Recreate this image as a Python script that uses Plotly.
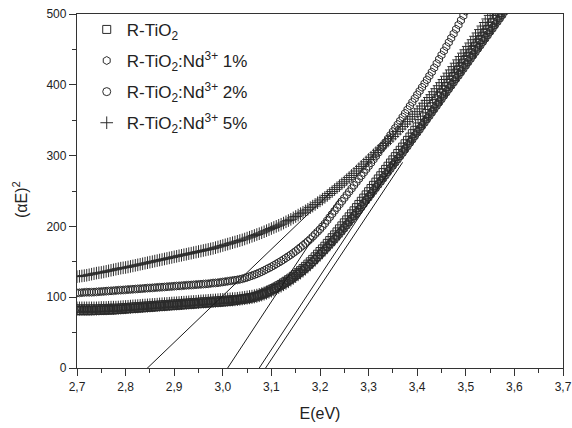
import plotly.graph_objects as go

# ---------------- data (every 0.005 eV) ----------------
E = [2.700, 2.705, 2.710, 2.715, 2.720, 2.725, 2.730, 2.735, 2.740, 2.745,
     2.750, 2.755, 2.760, 2.765, 2.770, 2.775, 2.780, 2.785, 2.790, 2.795,
     2.800, 2.805, 2.810, 2.815, 2.820, 2.825, 2.830, 2.835, 2.840, 2.845,
     2.850, 2.855, 2.860, 2.865, 2.870, 2.875, 2.880, 2.885, 2.890, 2.895,
     2.900, 2.905, 2.910, 2.915, 2.920, 2.925, 2.930, 2.935, 2.940, 2.945,
     2.950, 2.955, 2.960, 2.965, 2.970, 2.975, 2.980, 2.985, 2.990, 2.995,
     3.000, 3.005, 3.010, 3.015, 3.020, 3.025, 3.030, 3.035, 3.040, 3.045,
     3.050, 3.055, 3.060, 3.065, 3.070, 3.075, 3.080, 3.085, 3.090, 3.095,
     3.100, 3.105, 3.110, 3.115, 3.120, 3.125, 3.130, 3.135, 3.140, 3.145,
     3.150, 3.155, 3.160, 3.165, 3.170, 3.175, 3.180, 3.185, 3.190, 3.195,
     3.200, 3.205, 3.210, 3.215, 3.220, 3.225, 3.230, 3.235, 3.240, 3.245,
     3.250, 3.255, 3.260, 3.265, 3.270, 3.275, 3.280, 3.285, 3.290, 3.295,
     3.300, 3.305, 3.310, 3.315, 3.320, 3.325, 3.330, 3.335, 3.340, 3.345,
     3.350, 3.355, 3.360, 3.365, 3.370, 3.375, 3.380, 3.385, 3.390, 3.395,
     3.400, 3.405, 3.410, 3.415, 3.420, 3.425, 3.430, 3.435, 3.440, 3.445,
     3.450, 3.455, 3.460, 3.465, 3.470, 3.475, 3.480, 3.485, 3.490, 3.495,
     3.500, 3.505, 3.510, 3.515, 3.520, 3.525, 3.530, 3.535, 3.540, 3.545,
     3.550, 3.555, 3.560, 3.565, 3.570, 3.575, 3.580]

r_tio2 = [81, 81, 81, 81, 81, 81, 81, 81.2, 81.5, 81.5,
          81.5, 81.8, 82, 82, 82, 82.2, 82.5, 82.8, 83, 83.2,
          83.5, 83.8, 84, 84.2, 84.5, 84.8, 85, 85.2, 85.5, 85.8,
          86, 86.2, 86.5, 86.8, 87, 87.2, 87.5, 87.8, 88, 88.2,
          88.5, 88.8, 89, 89.2, 89.5, 89.8, 90, 90.2, 90.5, 90.8,
          91, 91.2, 91.5, 91.8, 92, 92.2, 92.5, 92.8, 93, 93.2,
          93.5, 93.8, 94, 94.5, 95, 95.5, 96, 96.5, 97, 97.5,
          98, 98.7, 99.5, 100.4, 101.5, 102.7, 104, 105.4, 107, 108.7,
          110.5, 112.2, 114, 116, 118, 120.2, 122.5, 124.7, 127, 129.5,
          132, 134.7, 137.5, 140.4, 143.5, 146.7, 150, 153.4, 157, 160.7,
          164.5, 168.2, 172, 176, 180, 184, 188, 192.2, 196.5, 200.7,
          205, 209.2, 213.5, 217.7, 222, 226.5, 231, 235.5, 240, 244.5,
          249, 253.5, 258, 262.5, 267, 271.5, 276, 280.5, 285, 289.5,
          294, 298.5, 303, 307.5, 312, 316.7, 321.5, 326.2, 331, 335.7,
          340.5, 345.2, 350, 354.7, 359.5, 364.2, 369, 373.7, 378.5, 383.2,
          388, 392.7, 397.5, 402.2, 407, 411.7, 416.5, 421.2, 426, 430.7,
          435.5, 440.2, 445, 449.7, 454.5, 459.2, 464, 468.7, 473.5, 478.2,
          483, 487.7, 492.5, 497.2, 502, 506.5, 511]

nd_1 = [106, 106.2, 106.5, 106.8, 107, 107, 107, 107.2, 107.5, 107.8,
        108, 108.2, 108.5, 108.8, 109, 109.2, 109.5, 109.8, 110, 110.2,
        110.5, 110.8, 111, 111.2, 111.5, 111.8, 112, 112.2, 112.5, 112.8,
        113, 113.2, 113.5, 113.8, 114, 114.2, 114.5, 114.8, 115, 115.2,
        115.5, 115.8, 116, 116.2, 116.5, 116.8, 117, 117.2, 117.5, 117.8,
        118, 118.2, 118.5, 118.8, 119, 119.5, 120, 120.2, 120.5, 121,
        121.5, 122, 122.5, 123, 123.5, 124, 124.5, 125.2, 126, 127,
        128, 129.2, 130.5, 131.7, 133, 134.5, 136, 137.7, 139.5, 141.2,
        143, 145, 147, 149, 151, 153.2, 155.5, 157.7, 160, 162.5,
        165, 167.7, 170.5, 173.2, 176, 179, 182, 185.5, 189, 192.5,
        196, 200, 204, 208.5, 213, 217.5, 222, 226.5, 231, 235.5,
        240, 244.5, 249, 253.5, 258, 262.5, 267, 271.5, 276, 280.5,
        285, 289.7, 294.5, 299.2, 304, 309, 314, 319, 324, 329,
        334, 339, 344, 349.2, 354.5, 359.7, 365, 370.2, 375.5, 380.7,
        386, 391.2, 396.5, 401.7, 407, 412.5, 418, 424, 430, 436,
        442, 448, 454, 460, 466, 472.2, 478.5, 484.7, 491, 497.5,
        504]

nd_2 = [84, 84, 84, 84, 84, 84, 84, 84, 84, 84.2,
        84.5, 84.5, 84.5, 84.8, 85, 85, 85, 85.2, 85.5, 85.8,
        86, 86.2, 86.5, 86.8, 87, 87.2, 87.5, 87.8, 88, 88.2,
        88.5, 88.8, 89, 89.2, 89.5, 89.8, 90, 90.2, 90.5, 90.8,
        91, 91.2, 91.5, 91.8, 92, 92.2, 92.5, 92.8, 93, 93.2,
        93.5, 93.8, 94, 94.2, 94.5, 94.8, 95, 95.2, 95.5, 95.8,
        96, 96.2, 96.5, 96.8, 97, 97.2, 97.5, 98, 98.5, 99,
        99.5, 100, 100.5, 101.2, 102, 103, 104, 105.2, 106.5, 108,
        109.5, 111.2, 113, 114.7, 116.5, 118.5, 120.5, 122.7, 125, 127.5,
        130, 132.5, 135, 137.7, 140.5, 143.5, 146.5, 149.7, 153, 156.5,
        160, 163.5, 167, 170.7, 174.5, 178.2, 182, 186, 190, 194,
        198, 202.2, 206.5, 210.7, 215, 219.2, 223.5, 228, 232.5, 237,
        241.5, 246, 250.5, 255, 259.5, 264, 268.5, 273, 277.5, 282,
        286.5, 291, 295.5, 300, 304.5, 309.2, 314, 318.7, 323.5, 328.2,
        333, 337.7, 342.5, 347.2, 352, 356.7, 361.5, 366.2, 371, 375.7,
        380.5, 385.2, 390, 394.7, 399.5, 404.2, 409, 413.7, 418.5, 423.2,
        428, 432.7, 437.5, 442.2, 447, 451.7, 456.5, 461.2, 466, 470.7,
        475.5, 480.2, 485, 489.7, 494.5, 499.2, 504]

nd_5 = [129, 129.5, 130, 130.5, 131, 131.7, 132.5, 133.2, 134, 134.5,
        135, 135.7, 136.5, 137.2, 138, 138.7, 139.5, 140.2, 141, 141.5,
        142, 142.7, 143.5, 144.2, 145, 145.7, 146.5, 147.2, 148, 148.7,
        149.5, 150.2, 151, 151.7, 152.5, 153.2, 154, 154.7, 155.5, 156.2,
        157, 157.7, 158.5, 159.2, 160, 160.7, 161.5, 162.2, 163, 163.7,
        164.5, 165.2, 166, 166.7, 167.5, 168.2, 169, 170, 171, 172,
        173, 174, 175, 176, 177, 178, 179, 180, 181, 182.2,
        183.5, 184.7, 186, 187.2, 188.5, 189.7, 191, 192.5, 194, 195.5,
        197, 198.5, 200, 201.5, 203, 204.7, 206.5, 208.2, 210, 212,
        214, 216, 218, 220, 222, 224.2, 226.5, 228.7, 231, 233.5,
        236, 238.5, 241, 243.7, 246.5, 249.2, 252, 254.7, 257.5, 260.2,
        263, 266, 269, 272, 275, 278.2, 281.5, 284.7, 288, 291.2,
        294.5, 297.7, 301, 304.2, 307.5, 310.7, 314, 317.2, 320.5, 323.7,
        327, 330.5, 334, 337.5, 341, 344.5, 348, 351.5, 355, 358.5,
        362, 366, 370, 374, 378, 382, 386, 390.2, 394.5, 398.7,
        403, 407.5, 412, 416.5, 421, 425.7, 430.5, 435.2, 440, 444.7,
        449.5, 454.2, 459, 463.7, 468.5, 473.2, 478, 483, 488, 493,
        498, 503, 508]

names = ["R-TiO<sub>2</sub>",
         "R-TiO<sub>2</sub>:Nd<sup>3+</sup> 1%",
         "R-TiO<sub>2</sub>:Nd<sup>3+</sup> 2%",
         "R-TiO<sub>2</sub>:Nd<sup>3+</sup> 5%"]

# tangent (Tauc) lines: x-intercept, slope, start value, end energy
tan_e0 = [2.845, 3.010, 3.075, 3.088]
tan_slope = [658, 1042, 1040, 1030]
tan_vstart = [-10, -10, -22, -22]
tan_eend = [3.222, 3.24, 3.36, 3.37]

x_ticks = [2.7, 2.8, 2.9, 3.0, 3.1, 3.2, 3.3, 3.4, 3.5, 3.6, 3.7]
y_ticks = [0, 100, 200, 300, 400, 500]
X_RANGE = [2.7, 3.7]
Y_RANGE = [0, 500]

# ---------------- figure ----------------
FONT = "Liberation Sans, Arial, sans-serif"
MC = "#2b2b2b"

fig = go.Figure()
series = [(r_tio2, "square-open", 8), (nd_1, "hexagon-open", 8),
          (nd_2, "circle-open", 8), (nd_5, "cross-thin-open", 9)]
for i, (vals, sym, sz) in enumerate(series):
    fig.add_trace(go.Scatter(
        x=E[:len(vals)], y=vals, mode="markers", name=names[i],
        legendgroup=str(i),
        marker=dict(symbol=sym, size=sz, color=MC, line=dict(width=1, color=MC))))
    if i == 2:
        # vertical bar of the Φ-shaped marker
        fig.add_trace(go.Scatter(
            x=E[:len(vals)], y=vals, mode="markers", name=names[i],
            legendgroup=str(i), showlegend=False, hoverinfo="skip",
            marker=dict(symbol="line-ns-open", size=10, color=MC,
                        line=dict(width=1, color=MC))))

shapes = []
for e0, s, vs, ee in zip(tan_e0, tan_slope, tan_vstart, tan_eend):
    shapes.append(dict(type="line", xref="x", yref="y",
                       x0=e0 + vs / s, y0=vs, x1=ee, y1=s * (ee - e0),
                       line=dict(color="#1a1a1a", width=1)))

axis_common = dict(showgrid=False, zeroline=False, automargin=False,
                   showline=True, linecolor="#333", linewidth=1.3, mirror=True,
                   ticks="outside", ticklen=7, tickwidth=1.2, tickcolor="#333",
                   tickfont=dict(size=12, family=FONT, color="#222"))

fig.update_layout(
    width=572, height=428, autosize=False,
    margin=dict(l=77, r=9, t=14, b=60),
    paper_bgcolor="white", plot_bgcolor="white",
    separators=",.",
    font=dict(family=FONT, size=12, color="#222"),
    showlegend=True,
    legend=dict(x=0.02, y=1.006, xanchor="left", yanchor="top",
                bgcolor="rgba(0,0,0,0)", font=dict(size=17, family=FONT, color="#222"),
                traceorder="grouped", tracegroupgap=6, itemwidth=30),
    shapes=shapes,
    annotations=[dict(text="(αE)<sup>2</sup>", textangle=-90,
                      xref="paper", yref="paper", x=-0.117, y=0.475,
                      xanchor="center", yanchor="middle", showarrow=False,
                      font=dict(size=16, family=FONT, color="#222"))],
    xaxis=dict(range=X_RANGE, tickvals=x_ticks, tickformat=".1f",
               minor=dict(dtick=0.05, ticks="outside", ticklen=4, tickwidth=1.2, tickcolor="#333"),
               title=dict(text="E(eV)", font=dict(size=16, family=FONT, color="#222"), standoff=15),
               **axis_common),
    yaxis=dict(range=Y_RANGE, tickvals=y_ticks,
               minor=dict(dtick=50, ticks="outside", ticklen=4, tickwidth=1.2, tickcolor="#333"),
               **axis_common),
)

fig.write_html(
    "out.html",
    config={"responsive": False, "displayModeBar": False},
    post_script="document.body.style.margin='0';document.body.style.padding='0';",
)
